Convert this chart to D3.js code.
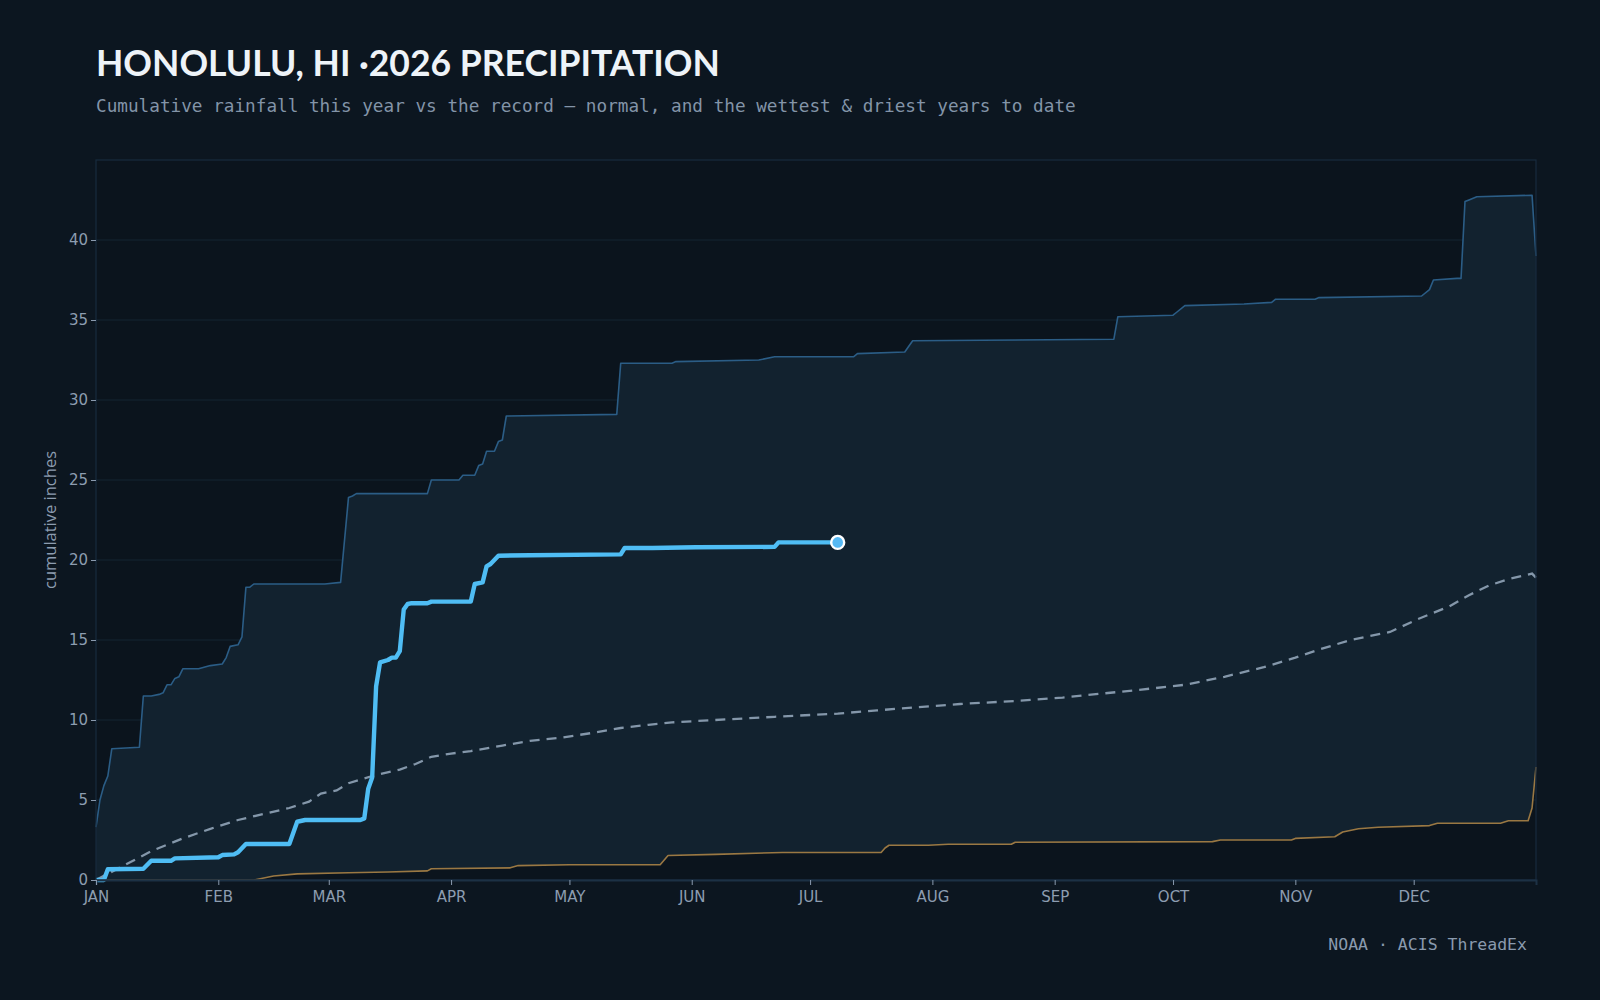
<!DOCTYPE html>
<html>
<head>
<meta charset="utf-8">
<script src="https://cdn.jsdelivr.net/npm/d3@7"></script>
<style>
  body { margin: 0; background: #0c1620; }
</style>
</head>
<body>
<div id="chart-area"></div>
<script>
// values are [day of year (0 = Jan 1), cumulative inches]
var thisYear = [[0,0],[2,0],[3,0.67],[12,0.7],[14,1.2],[19,1.2],[20,1.35],[31,1.42],[32,1.56],[35,1.6],[36,1.73],
  [38,2.25],[49,2.25],[51,3.64],[53,3.75],[67,3.75],[68,3.85],[69,5.7],[70,6.4],[71,12.1],[72,13.6],[74,13.75],
  [75,13.9],[76,13.9],[77,14.3],[78,16.9],[79,17.25],[80,17.3],[84,17.3],[85,17.4],[95,17.4],[96,18.5],[98,18.6],
  [99,19.6],[100,19.75],[102,20.27],[110,20.3],[133,20.35],[134,20.75],[141,20.75],[152,20.8],[172,20.82],
  [173,21.1],[188,21.1]];

var wettest = [[0,3.3],[1,5.0],[2,5.9],[3,6.5],[4,8.2],[11,8.3],[12,11.5],[14,11.5],[16,11.6],[17,11.7],[18,12.2],
  [19,12.2],[20,12.6],[21,12.7],[22,13.2],[26,13.2],[29,13.4],[32,13.5],[33,13.9],[34,14.6],[36,14.7],[37,15.2],
  [38,18.3],[39,18.3],[40,18.5],[58,18.5],[62,18.6],[64,23.9],[65,24.0],[66,24.15],[84,24.15],[85,25.0],[92,25.0],
  [93,25.3],[96,25.3],[97,25.9],[98,26.0],[99,26.8],[101,26.8],[102,27.4],[103,27.5],[104,29.0],[132,29.1],
  [133,32.3],[146,32.3],[147,32.4],[168,32.5],[172,32.7],[192,32.7],[193,32.9],[205,33.0],[207,33.7],[258,33.8],
  [259,35.2],[273,35.3],[274,35.5],[276,35.9],[291,36.0],[298,36.1],[299,36.3],[309,36.3],[310,36.4],[336,36.5],
  [338,36.9],[339,37.5],[345,37.6],[346,37.6],[347,42.4],[348,42.5],[350,42.7],[364,42.8],[365,39.0]];

var normal = [[0,0],[7,0.9],[14,1.8],[22,2.6],[29,3.2],[36,3.75],[42,4.1],[49,4.5],[54,4.9],[57,5.4],[61,5.6],
  [64,6.05],[70,6.5],[77,6.9],[81,7.25],[85,7.7],[90,7.9],[95,8.06],[103,8.4],[110,8.7],[118,8.9],[126,9.2],
  [133,9.5],[140,9.7],[146,9.85],[157,10.0],[172,10.2],[188,10.4],[198,10.6],[208,10.8],[219,11.0],[234,11.2],
  [245,11.4],[255,11.65],[265,11.9],[276,12.2],[286,12.7],[296,13.3],[304,13.9],[310,14.4],[318,15.0],
  [328,15.5],[335,16.3],[343,17.1],[348,17.8],[353,18.4],[358,18.8],[364,19.15],[365,18.9]];

var driest = [[0,0],[40,0],[41,0.05],[45,0.25],[51,0.38],[64,0.45],[74,0.5],[84,0.57],[85,0.7],[105,0.76],
  [107,0.9],[120,0.95],[143,0.95],[145,1.53],[157,1.6],[174,1.72],[199,1.72],[200,2.0],[201,2.17],[211,2.17],
  [216,2.23],[232,2.23],[233,2.36],[283,2.4],[285,2.5],[303,2.5],[304,2.6],[314,2.7],[316,3.0],[320,3.2],
  [325,3.3],[338,3.4],[340,3.55],[356,3.55],[358,3.7],[363,3.7],[364,4.5],[365,7.06]];

var monthLabels = ["JAN","FEB","MAR","APR","MAY","JUN","JUL","AUG","SEP","OCT","NOV","DEC"];
var yTicks = [0, 5, 10, 15, 20, 25, 30, 35, 40];

var width = 1600;
var height = 1000;
var margin = { top: 160, right: 64, bottom: 120, left: 96 };
var innerWidth = width - margin.left - margin.right;
var innerHeight = height - margin.top - margin.bottom;

var start = new Date(2026, 0, 1);
var end = new Date(2027, 0, 1);
var toDate = d => d3.timeDay.offset(start, d);

var svg = d3.select("#chart-area")
    .append("svg")
    .attr("width", width)
    .attr("height", height)
    .style("display", "block")
    .style("background", "#0c1620");

svg.append("text")
    .attr("x", 96)
    .attr("y", 76)
    .attr("fill", "#eef3f8")
    .attr("font-family", "Lato, sans-serif")
    .attr("font-weight", 700)
    .attr("font-size", "35.5px")
    .text("HONOLULU, HI ·2026 PRECIPITATION");

svg.append("text")
    .attr("x", 96)
    .attr("y", 112)
    .attr("fill", "#8394a8")
    .attr("font-family", "'DejaVu Sans Mono', monospace")
    .attr("font-size", "17.7px")
    .text("Cumulative rainfall this year vs the record \u2014 normal, and the wettest & driest years to date");

svg.append("text")
    .attr("x", 1527)
    .attr("y", 950)
    .attr("text-anchor", "end")
    .attr("fill", "#8a9aae")
    .attr("font-family", "'DejaVu Sans Mono', monospace")
    .attr("font-size", "16.5px")
    .text("NOAA \u00b7 ACIS ThreadEx");

var g = svg.append("g")
    .attr("transform", `translate(${margin.left}, ${margin.top})`);

var x = d3.scaleTime().domain([start, end]).range([0, innerWidth]);
var y = d3.scaleLinear().domain([0, 45]).range([innerHeight, 0]);

// plot background
g.append("rect")
    .attr("width", innerWidth)
    .attr("height", innerHeight)
    .attr("fill", "#0b141d");

// grid
g.selectAll(".grid")
    .data(yTicks.filter(d => d > 0))
    .enter()
    .append("line")
    .attr("x1", 0)
    .attr("x2", innerWidth)
    .attr("y1", d => y(d))
    .attr("y2", d => y(d))
    .attr("stroke", "#142433")
    .attr("stroke-width", 1);

// band between driest and wettest
var line = d3.line()
    .x(d => x(toDate(d[0])))
    .y(d => y(d[1]));

var band = wettest.concat(driest.slice().reverse());
g.append("path")
    .attr("d", line(band) + "Z")
    .attr("fill", "#12222f");

g.append("path")
    .datum(wettest)
    .attr("d", line)
    .attr("fill", "none")
    .attr("stroke", "#2b5d86")
    .attr("stroke-width", 1.6)
    .attr("stroke-linejoin", "round");

g.append("path")
    .datum(driest)
    .attr("d", line)
    .attr("fill", "none")
    .attr("stroke", "#9a7843")
    .attr("stroke-width", 1.6)
    .attr("stroke-linejoin", "round");

g.append("path")
    .datum(normal)
    .attr("d", line)
    .attr("fill", "none")
    .attr("stroke", "#8497aa")
    .attr("stroke-width", 2.3)
    .attr("stroke-dasharray", "10,7");

g.append("path")
    .datum(thisYear)
    .attr("d", line)
    .attr("fill", "none")
    .attr("stroke", "#4fbdf4")
    .attr("stroke-width", 4.4)
    .attr("stroke-linejoin", "round");

var last = thisYear[thisYear.length - 1];
g.append("circle")
    .attr("cx", x(toDate(last[0])))
    .attr("cy", y(last[1]))
    .attr("r", 6.5)
    .attr("fill", "#56b9f4")
    .attr("stroke", "#ffffff")
    .attr("stroke-width", 2.4);

// frame
g.append("rect")
    .attr("width", innerWidth)
    .attr("height", innerHeight)
    .attr("fill", "none")
    .attr("stroke", "#182b3e")
    .attr("stroke-width", 1.2);

// axes
var months = d3.timeMonth.range(start, end);
var xAxis = d3.axisBottom(x)
    .tickValues(months)
    .tickSize(5)
    .tickFormat((d, i) => monthLabels[i]);

var xg = g.append("g")
    .attr("transform", `translate(0, ${innerHeight})`)
    .call(xAxis);
xg.select(".domain").attr("stroke", "#1c3145").attr("stroke-width", 2);
xg.selectAll(".tick line").attr("stroke", "#8a9aae");
xg.selectAll("text")
    .attr("fill", "#8d9db0")
    .attr("font-family", "'DejaVu Sans', sans-serif")
    .attr("font-size", "15px")
    .attr("dy", "0.9em");

var yAxis = d3.axisLeft(y)
    .tickValues(yTicks)
    .tickSize(5);

var yg = g.append("g").call(yAxis);
yg.select(".domain").remove();
yg.selectAll(".tick line").attr("stroke", "#8a9aae");
yg.selectAll("text")
    .attr("fill", "#8d9db0")
    .attr("font-family", "'DejaVu Sans', sans-serif")
    .attr("font-size", "15px");

g.append("text")
    .attr("x", -innerHeight / 2)
    .attr("y", -40)
    .attr("text-anchor", "middle")
    .attr("transform", "rotate(-90)")
    .attr("fill", "#8d9db0")
    .attr("font-family", "'Open Sans', sans-serif")
    .attr("font-size", "16.5px")
    .text("cumulative inches");
</script>
</body>
</html>
